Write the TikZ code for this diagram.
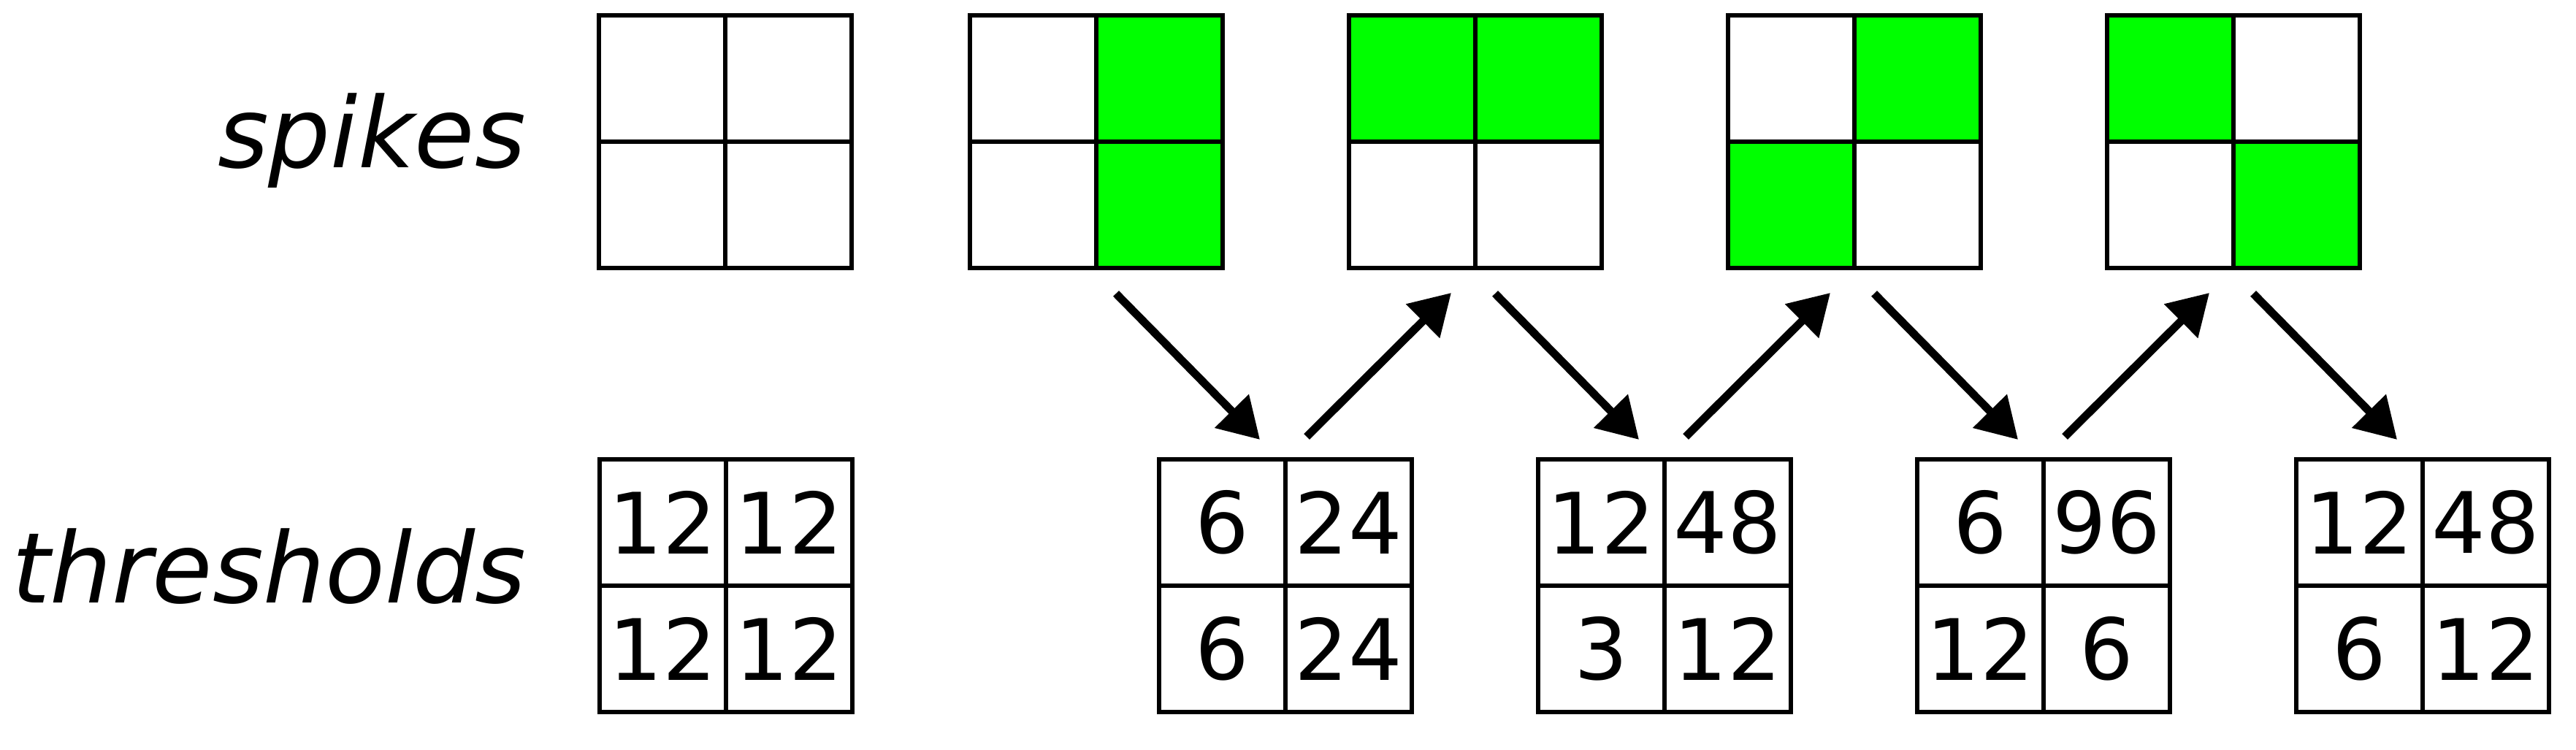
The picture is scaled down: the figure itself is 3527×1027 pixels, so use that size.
\documentclass[tikz,border=0pt]{standalone}
\usepackage{fontspec}
\setmainfont{DejaVu Sans}
\usetikzlibrary{arrows.meta,calc}
\definecolor{spikegreen}{HTML}{00FF00}
\tikzset{
  cell/.style={draw, line width=0.65pt, minimum size=17.3pt, inner sep=0pt, outer sep=0pt,
    font=\fontsize{11.6pt}{12pt}\selectfont},
  rowlabel/.style={anchor=base east, inner sep=0pt, font=\fontsize{13.4pt}{15pt}\selectfont\itshape},
  flow/.style={line width=1.1pt, -{Triangle[length=5.5pt,width=6.3pt]}}
}
\begin{document}
\begin{tikzpicture}[x=0.1pt,y=-0.1pt]
\useasboundingbox (0,0) rectangle (3527,1027);
\node[rowlabel] (lspikes) at (722,230) {spikes};
\node[rowlabel] (lthresh) at (722,826) {thresholds};
% spike grids
\foreach \n/\L/\fa/\fb/\fc/\fd in {1/820/white/white/white/white,2/1328/white/spikegreen/white/spikegreen,3/1847/spikegreen/spikegreen/white/white,4/2366/white/spikegreen/spikegreen/white,5/2885/spikegreen/white/white/spikegreen}{
  \node[cell, fill=\fa] (s\n-a) at ({\L+86.5},107.5) {};
  \node[cell, fill=\fb] (s\n-b) at ({\L+259.5},107.5) {};
  \node[cell, fill=\fc] (s\n-c) at ({\L+86.5},280.5) {};
  \node[cell, fill=\fd] (s\n-d) at ({\L+259.5},280.5) {};
}
% threshold grids
\foreach \n/\L/\va/\vb/\vc/\vd in {1/821/12/12/12/12,2/1587/6/24/6/24,3/2106/12/48/3/12,4/2625/6/96/12/6,5/3144/12/48/6/12}{
  \node[cell] (t\n-a) at ({\L+86.5},715.5) {\va};
  \node[cell] (t\n-b) at ({\L+259.5},715.5) {\vb};
  \node[cell] (t\n-c) at ({\L+86.5},888.5) {\vc};
  \node[cell] (t\n-d) at ({\L+259.5},888.5) {\vd};
}
% arrows
\foreach \s/\t in {2/2,3/3,4/4,5/5}{
  \draw[flow] ($(s\s-c.south east)+(27,35)$) -- ($(t\t-a.north east)+(-35,-27)$);
}
\foreach \t/\s in {2/3,3/4,4/5}{
  \draw[flow] ($(t\t-b.north west)+(29,-31)$) -- ($(s\s-c.south east)+(-33,34)$);
}
\end{tikzpicture}
\end{document}
